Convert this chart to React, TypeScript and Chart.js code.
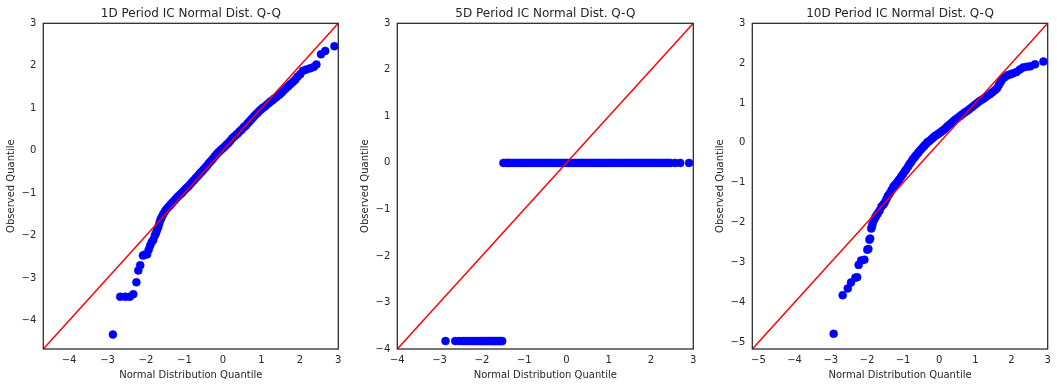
import React, { useEffect, useRef } from 'react';
import { Chart, registerables } from 'chart.js';

Chart.register(...registerables);

// ---------- text ----------
const panelTitles = [
  '1D Period IC Normal Dist. Q-Q',
  '5D Period IC Normal Dist. Q-Q',
  '10D Period IC Normal Dist. Q-Q',
];
const xAxisTitle = 'Normal Distribution Quantile';
const yAxisTitle = 'Observed Quantile';

// ---------- axis ranges (equal on x and y, matplotlib 45° reference line) ----------
const rangeLow = [-4.67, -4, -5.17];
const rangeHigh = [3, 3, 3];

// ---------- 1D period: theoretical vs observed quantiles ----------
const q1Theoretical = [
  -2.86, -2.67, -2.53, -2.42, -2.33, -2.25, -2.20, -2.15, -2.08, -2.03, -1.97, -1.93, -1.89, -1.85,
  -1.81, -1.77, -1.74, -1.71, -1.68, -1.65, -1.62, -1.59, -1.55, -1.51, -1.47, -1.43, -1.39, -1.35,
  -1.31, -1.26, -1.21, -1.16, -1.11, -1.06, -1.01, -0.96, -0.91, -0.86, -0.81, -0.76, -0.71, -0.66,
  -0.61, -0.56, -0.51, -0.46, -0.41, -0.36, -0.31, -0.26, -0.21, -0.16, -0.11, -0.06, -0.01, 0.04,
  0.09, 0.14, 0.19, 0.24, 0.29, 0.34, 0.39, 0.44, 0.49, 0.54, 0.59, 0.64, 0.69, 0.74, 0.79, 0.84,
  0.89, 0.94, 0.99, 1.04, 1.09, 1.14, 1.19, 1.24, 1.29, 1.34, 1.40, 1.46, 1.52, 1.58, 1.64, 1.70,
  1.76, 1.82, 1.88, 1.94, 2.01, 2.08, 2.17, 2.27, 2.36, 2.43, 2.55, 2.66, 2.90,
];
const q1Observed = [
  -4.33, -3.44, -3.44, -3.44, -3.38, -3.10, -2.82, -2.70, -2.47, -2.45, -2.44, -2.33, -2.23, -2.15,
  -2.10, -2.00, -1.94, -1.86, -1.79, -1.70, -1.62, -1.56, -1.49, -1.43, -1.38, -1.34, -1.30, -1.26,
  -1.22, -1.17, -1.12, -1.07, -1.03, -0.99, -0.94, -0.89, -0.85, -0.80, -0.75, -0.70, -0.65, -0.60,
  -0.55, -0.50, -0.45, -0.40, -0.35, -0.29, -0.24, -0.19, -0.13, -0.08, -0.03, 0.01, 0.05, 0.09,
  0.14, 0.18, 0.23, 0.29, 0.33, 0.37, 0.41, 0.46, 0.50, 0.55, 0.59, 0.64, 0.69, 0.74, 0.79, 0.84,
  0.88, 0.93, 0.97, 1.01, 1.04, 1.08, 1.12, 1.16, 1.19, 1.23, 1.27, 1.31, 1.36, 1.42, 1.47, 1.52,
  1.57, 1.62, 1.67, 1.74, 1.80, 1.88, 1.91, 1.94, 1.97, 2.03, 2.27, 2.35, 2.46,
];

// ---------- 5D period: two flat groups ----------
const q5LowTheoretical = [
  -2.86, -2.63, -2.53, -2.45, -2.38, -2.32, -2.26, -2.21, -2.16, -2.11, -2.06, -2.02, -1.98, -1.94,
  -1.90, -1.86, -1.82, -1.78, -1.75, -1.71, -1.68, -1.65, -1.61, -1.58, -1.55, -1.52,
];
const q5LowObserved = -3.83;
const q5ZeroTheoretical = [
  -1.49, -1.44, -1.39, -1.34, -1.29, -1.24, -1.19, -1.14, -1.09, -1.04, -0.99, -0.94, -0.89, -0.84,
  -0.79, -0.74, -0.69, -0.64, -0.59, -0.54, -0.49, -0.44, -0.39, -0.34, -0.29, -0.24, -0.19, -0.14,
  -0.09, -0.04, 0.01, 0.06, 0.11, 0.16, 0.21, 0.26, 0.31, 0.36, 0.41, 0.46, 0.51, 0.56, 0.61, 0.66,
  0.71, 0.76, 0.81, 0.86, 0.91, 0.96, 1.01, 1.06, 1.11, 1.16, 1.21, 1.26, 1.31, 1.36, 1.41, 1.46,
  1.51, 1.56, 1.61, 1.66, 1.71, 1.76, 1.81, 1.86, 1.91, 1.96, 2.01, 2.06, 2.11, 2.16, 2.21, 2.26,
  2.31, 2.36, 2.41, 2.46, 2.57, 2.69, 2.90,
];
const q5ZeroObserved = 0;

// ---------- 10D period ----------
const q10Theoretical = [
  -2.92, -2.67, -2.53, -2.44, -2.32, -2.27, -2.23, -2.16, -2.07, -1.99, -1.96, -1.93, -1.91, -1.88,
  -1.86, -1.84, -1.80, -1.77, -1.74, -1.70, -1.65, -1.60, -1.55, -1.51, -1.46, -1.42, -1.37, -1.32,
  -1.28, -1.24, -1.19, -1.14, -1.10, -1.05, -1.00, -0.95, -0.91, -0.86, -0.82, -0.77, -0.73, -0.68,
  -0.64, -0.59, -0.55, -0.50, -0.45, -0.41, -0.36, -0.32, -0.27, -0.22, -0.17, -0.12, -0.07, -0.02,
  0.03, 0.08, 0.13, 0.18, 0.23, 0.29, 0.34, 0.39, 0.44, 0.50, 0.57, 0.63, 0.70, 0.77, 0.84, 0.91,
  0.98, 1.05, 1.12, 1.19, 1.26, 1.33, 1.40, 1.47, 1.54, 1.60, 1.65, 1.70, 1.75, 1.82, 1.90, 1.97,
  2.05, 2.14, 2.23, 2.32, 2.42, 2.52, 2.65, 2.88,
];
const q10Observed = [
  -4.79, -3.82, -3.65, -3.50, -3.38, -3.37, -3.06, -2.95, -2.93, -2.68, -2.66, -2.43, -2.40, -2.15,
  -2.10, -2.02, -1.93, -1.87, -1.83, -1.77, -1.70, -1.60, -1.55, -1.50, -1.41, -1.33, -1.27, -1.19,
  -1.12, -1.07, -1.02, -0.96, -0.91, -0.84, -0.78, -0.71, -0.66, -0.59, -0.53, -0.47, -0.41, -0.36,
  -0.31, -0.26, -0.21, -0.16, -0.11, -0.07, -0.02, 0.02, 0.05, 0.09, 0.13, 0.17, 0.20, 0.23,
  0.26, 0.30, 0.33, 0.37, 0.42, 0.46, 0.50, 0.54, 0.58, 0.62, 0.67, 0.71, 0.76, 0.80, 0.85, 0.90,
  0.95, 1.00, 1.05, 1.09, 1.13, 1.18, 1.22, 1.27, 1.32, 1.37, 1.45, 1.53, 1.60, 1.65, 1.70, 1.72,
  1.75, 1.78, 1.84, 1.89, 1.91, 1.92, 1.97, 2.04,
];

// ---------- layout (pixels) ----------
const W = 1057;
const H = 387;
const plotLeft = [43.3, 397.3, 752.3];
const plotRight = [338.3, 693.3, 1047.7];
const yAxisWidth = 40;
const xAxisHeight = 38;

const TEXT = '#262626';
const FONT = "'DejaVu Sans', sans-serif";

const fmt = (v: number) => (v < 0 ? '\u2212' + Math.abs(v) : String(v));

function pointsFor(i: number) {
  if (i === 0) return q1Theoretical.map((x, k) => ({ x, y: q1Observed[k] }));
  if (i === 2) return q10Theoretical.map((x, k) => ({ x, y: q10Observed[k] }));
  return [
    ...q5LowTheoretical.map((x) => ({ x, y: q5LowObserved })),
    ...q5ZeroTheoretical.map((x) => ({ x, y: q5ZeroObserved })),
  ];
}

const frame = {
  id: 'frame',
  afterDraw(chart: any) {
    const { ctx, chartArea: a } = chart;
    ctx.save();
    ctx.strokeStyle = TEXT;
    ctx.lineWidth = 1.25;
    ctx.strokeRect(a.left, a.top, a.right - a.left, a.bottom - a.top);
    ctx.restore();
  },
};

function makeConfig(i: number): any {
  const lo = rangeLow[i];
  const hi = rangeHigh[i];
  const axisBase = {
    type: 'linear',
    min: lo,
    max: hi,
    grid: { display: false, drawTicks: false },
    border: { display: false },
  };
  return {
    type: 'scatter',
    data: {
      datasets: [
        {
          data: [
            { x: lo, y: lo },
            { x: hi, y: hi },
          ],
          showLine: true,
          borderColor: '#ff0000',
          borderWidth: 1.5,
          pointRadius: 0,
        },
        {
          data: pointsFor(i),
          backgroundColor: '#0000ff',
          borderColor: '#0000ff',
          borderWidth: 0.5,
          pointRadius: 4,
        },
      ],
    },
    options: {
      responsive: false,
      animation: false,
      events: [],
      layout: {
        padding: { left: plotLeft[i] - yAxisWidth, right: W - plotRight[i], top: 0, bottom: 0 },
      },
      plugins: {
        legend: { display: false },
        tooltip: { enabled: false },
        title: {
          display: true,
          text: panelTitles[i],
          fullSize: false,
          color: TEXT,
          font: { family: FONT, size: 12, weight: 'normal' },
          padding: { top: 7, bottom: 1.9 },
        },
      },
      scales: {
        x: {
          ...axisBase,
          position: 'bottom',
          afterFit: (s: any) => {
            s.height = xAxisHeight;
          },
          ticks: {
            stepSize: 1,
            includeBounds: false,
            color: TEXT,
            padding: 5,
            maxRotation: 0,
            font: { family: FONT, size: 10 },
            callback: (v: any) => fmt(Number(v)),
          },
          title: {
            display: true,
            text: xAxisTitle,
            color: TEXT,
            font: { family: FONT, size: 10 },
            padding: { top: 0, bottom: 6 },
          },
        },
        y: {
          ...axisBase,
          position: 'left',
          afterFit: (s: any) => {
            s.width = yAxisWidth;
          },
          ticks: {
            stepSize: 1,
            includeBounds: false,
            color: TEXT,
            padding: 7,
            font: { family: FONT, size: 10 },
            callback: (v: any) => fmt(Number(v)),
          },
          title: {
            display: true,
            text: yAxisTitle,
            color: TEXT,
            font: { family: FONT, size: 10 },
            padding: { top: 2, bottom: 0 },
          },
        },
      },
    },
    plugins: [frame],
  };
}

export default function App() {
  const r0 = useRef<HTMLCanvasElement>(null);
  const r1 = useRef<HTMLCanvasElement>(null);
  const r2 = useRef<HTMLCanvasElement>(null);

  useEffect(() => {
    const refs = [r0, r1, r2];
    const charts = refs.map((r, i) => new Chart(r.current as HTMLCanvasElement, makeConfig(i)));
    return () => charts.forEach((c) => c.destroy());
  }, []);

  const canvasStyle: React.CSSProperties = { position: 'absolute', left: 0, top: 0 };
  return (
    <div style={{ position: 'absolute', left: 0, top: 0, width: W, height: H, background: '#ffffff' }}>
      <canvas ref={r0} width={W} height={H} style={canvasStyle} />
      <canvas ref={r1} width={W} height={H} style={canvasStyle} />
      <canvas ref={r2} width={W} height={H} style={canvasStyle} />
    </div>
  );
}
